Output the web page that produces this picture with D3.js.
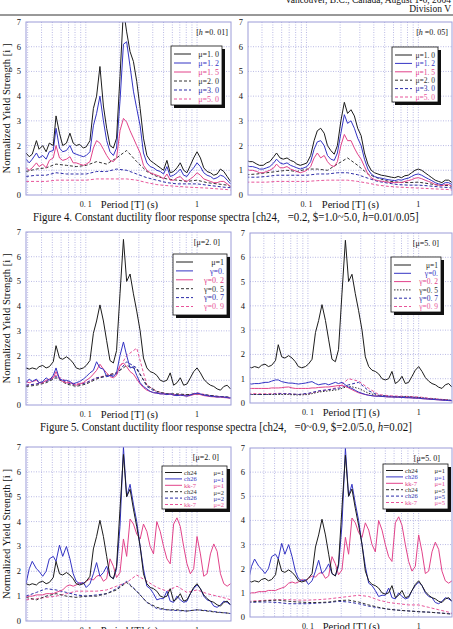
<!DOCTYPE html>
<html><head><meta charset="utf-8">
<script src="https://cdn.jsdelivr.net/npm/d3@7"></script>
<style>
body{margin:0;background:#fff}
svg{display:block}
text{font-family:"Liberation Serif","DejaVu Serif",serif;fill:#111}
</style></head><body>
<svg id="page" width="453" height="629"></svg>
<script>
// period grids (s)
const periods = [0.029,0.031,0.033,0.036,0.038,0.041,0.044,0.047,0.051,0.054,
  0.058,0.062,0.067,0.072,0.077,0.082,0.088,0.095,0.101,0.109,
  0.117,0.125,0.134,0.144,0.154,0.165,0.177,0.189,0.203,0.218,
  0.233,0.25,0.268,0.287,0.308,0.33,0.354,0.379,0.406,0.435,
  0.467,0.5,0.536,0.574,0.616,0.66,0.707,0.758,0.812,0.871,
  0.933,1.0,1.072,1.149,1.231,1.32,1.414,1.516,1.624,1.741,1.866,2.0]
const periodsC = [0.029,0.036,0.044,0.054,0.067,0.082,0.101,0.125,0.154,0.189,0.233,
  0.287,0.354,0.435,0.536,0.66,0.812,1.0,1.231,1.516,1.866,2.0]

// Fig 4, h=0.01
const h001_mu10 = [1.7,1.55,1.65,2.2,1.85,2.0,1.75,2.1,2.0,3.2, 2.5,2.0,2.1,2.5,2.1,2.0,2.05,1.9,1.95,2.2,
  3.5,4.0,5.2,3.6,2.7,2.0,1.9,2.3,4.8,7.5, 6.6,5.8,5.4,4.6,3.5,2.3,1.6,1.4,1.3,1.2,
  1.1,1.0,1.4,0.9,0.95,1.1,1.3,1.0,0.9,1.2, 1.5,1.75,1.5,1.1,0.95,0.9,0.8,0.85,1.05,0.95,0.75,0.55]
const h001_mu12 = [1.45,1.3,1.45,1.7,1.5,1.6,1.45,1.75,1.8,2.7, 1.9,1.75,1.8,2.0,1.7,1.65,1.6,1.55,1.6,1.75,
  2.8,3.3,4.0,3.0,2.2,1.75,1.6,1.9,3.8,6.1, 6.2,5.2,4.2,3.5,2.8,1.7,1.3,1.15,1.1,1.0,
  0.95,0.85,1.15,0.75,0.8,0.9,1.05,0.8,0.75,0.95, 1.1,1.3,1.15,0.9,0.8,0.75,0.65,0.7,0.8,0.75,0.6,0.45]
const h001_mu15 = [1.1,1.0,1.1,1.3,1.15,1.25,1.1,1.4,1.5,2.0, 1.5,1.4,1.45,1.55,1.3,1.3,1.25,1.2,1.25,1.35,
  1.9,2.2,2.1,1.85,1.6,1.4,1.35,1.5,2.6,3.1, 2.95,2.6,2.3,2.0,1.7,1.2,1.0,0.9,0.85,0.8,
  0.75,0.65,0.85,0.6,0.6,0.7,0.75,0.6,0.55,0.65, 0.75,0.9,0.8,0.65,0.6,0.55,0.5,0.5,0.55,0.55,0.45,0.35]
const h001_mu20 = [0.95,1.05,1.1,1.25,1.2,1.15,1.2,1.35,1.25,1.5,1.8,1.35,0.95,0.75,0.65,0.6,0.55,0.6,0.5,0.45,0.4,0.35]
const h001_mu30 = [0.75,0.8,0.8,0.9,0.85,0.85,0.85,0.95,0.95,1.05,1.0,0.85,0.7,0.6,0.5,0.45,0.45,0.45,0.4,0.35,0.3,0.3]
const h001_mu50 = [0.55,0.55,0.55,0.6,0.6,0.6,0.6,0.65,0.65,0.65,0.65,0.6,0.5,0.42,0.38,0.35,0.32,0.3,0.28,0.25,0.22,0.2]

// Fig 4, h=0.05
const h005_mu10 = [1.4,1.35,1.35,1.25,1.2,1.2,1.3,1.35,1.55,1.7, 1.5,1.45,1.5,1.4,1.35,1.25,1.2,1.25,1.3,1.6,
  2.2,2.6,2.7,2.5,2.0,1.8,1.65,2.0,3.0,3.75, 3.3,3.45,3.2,2.7,2.4,1.7,1.25,1.0,0.9,0.85,
  0.8,0.78,0.75,0.72,0.7,0.75,0.7,0.78,0.8,0.9, 1.0,1.05,1.0,0.9,0.8,0.7,0.6,0.55,0.5,0.6,0.6,0.5]
const h005_mu12 = [1.2,1.15,1.15,1.1,1.05,1.05,1.1,1.15,1.3,1.45, 1.3,1.25,1.3,1.2,1.15,1.1,1.05,1.1,1.15,1.35,
  1.85,2.15,2.2,2.0,1.6,1.45,1.4,1.7,2.5,3.25, 2.9,3.0,2.7,2.3,2.0,1.45,1.05,0.85,0.75,0.7,
  0.68,0.65,0.62,0.6,0.58,0.62,0.6,0.65,0.68,0.75, 0.82,0.85,0.8,0.72,0.65,0.58,0.5,0.45,0.42,0.5,0.5,0.42]
const h005_mu15 = [1.05,1.0,1.0,0.95,0.9,0.9,0.95,1.0,1.1,1.25, 1.1,1.1,1.15,1.05,1.0,0.95,0.9,0.95,1.0,1.15,
  1.5,1.7,1.5,1.6,1.35,1.2,1.15,1.35,2.0,2.45, 2.2,2.2,1.9,1.65,1.45,1.15,0.85,0.7,0.62,0.58,
  0.56,0.54,0.52,0.5,0.5,0.52,0.5,0.55,0.58,0.62, 0.68,0.7,0.66,0.6,0.55,0.5,0.42,0.4,0.38,0.42,0.42,0.35]
const h005_mu20 = [0.82,0.85,0.9,0.95,1.0,0.95,1.05,1.05,1.0,1.25,1.5,1.2,0.85,0.68,0.56,0.52,0.5,0.52,0.46,0.4,0.38,0.35]
const h005_mu30 = [0.72,0.72,0.75,0.8,0.8,0.8,0.8,0.85,0.85,0.9,0.9,0.82,0.68,0.55,0.48,0.42,0.4,0.4,0.37,0.33,0.3,0.28]
const h005_mu50 = [0.52,0.52,0.52,0.55,0.55,0.55,0.55,0.58,0.6,0.6,0.6,0.55,0.48,0.4,0.35,0.32,0.3,0.28,0.26,0.24,0.22,0.2]

// mu=1 spectra, h=0.02
const ch24_mu1 = [1.5,1.45,1.5,1.45,1.55,1.6,1.5,1.55,1.75,2.4, 1.9,1.85,1.95,1.85,1.7,1.5,1.45,1.5,1.6,1.8,
  2.9,3.4,4.05,3.4,2.6,1.8,1.7,2.2,4.5,6.7, 5.0,5.3,4.5,3.8,3.0,1.9,1.5,1.35,1.3,1.2,
  1.0,0.95,1.0,1.3,0.8,0.9,1.1,0.8,0.85,1.1, 1.35,1.5,1.3,1.05,0.9,0.8,0.75,0.65,0.6,0.75,0.8,0.65]
const ch26_mu1 = [1.5,2.1,2.4,2.1,2.0,1.8,2.0,2.5,2.6,2.4, 3.05,2.6,3.0,2.5,1.9,1.6,1.5,1.55,1.35,1.5,
  1.9,2.35,1.8,1.95,2.2,1.8,1.7,2.1,3.8,7.0, 5.0,5.5,4.7,4.0,3.0,2.1,1.4,1.3,1.1,0.85,
  0.9,0.9,1.2,0.8,0.75,1.0,0.85,0.75,0.8,1.1, 1.3,1.45,1.3,1.0,0.85,0.8,0.6,0.55,0.65,0.8,0.75,0.65]
const kk7_mu1 = [0.95,1.0,1.0,1.05,1.05,1.05,1.1,1.1,1.1,1.15, 1.2,1.25,1.4,1.45,1.4,1.45,1.55,1.5,1.6,1.7,
  1.65,1.8,1.85,1.6,1.7,2.5,2.2,1.75,1.95,3.3, 2.6,4.1,3.9,3.5,3.3,3.9,3.6,3.0,2.7,4.0,
  3.6,3.0,2.5,2.3,3.9,4.15,3.8,3.0,2.3,1.9, 2.1,3.4,2.7,1.8,1.9,2.7,3.1,2.8,1.9,1.5,1.4,1.5]

// Fig 5, mu=2.0
const g0_mu2 = [0.9,1.05,0.95,1.05,0.9,0.95,1.1,1.0,1.2,1.5, 1.05,1.0,1.0,0.95,0.85,0.9,0.95,1.05,1.15,1.3,
  1.4,1.75,1.5,1.45,1.15,1.2,1.15,1.3,2.0,2.55, 2.0,1.5,1.55,1.2,0.9,0.75,0.65,0.55,0.5,0.48,
  0.45,0.45,0.42,0.45,0.4,0.38,0.4,0.38,0.36,0.4, 0.45,0.48,0.45,0.4,0.38,0.35,0.35,0.32,0.33,0.32,0.3,0.28]
const g02_mu2 = [0.95,0.9,0.95,1.0,0.9,0.9,1.0,1.05,1.1,1.35, 1.05,0.95,0.9,0.9,0.85,0.8,0.85,0.9,1.0,1.1,
  1.25,1.4,1.65,1.45,1.3,1.15,1.1,1.2,1.6,1.7, 1.55,1.35,1.25,1.05,0.85,0.7,0.6,0.55,0.5,0.48,
  0.45,0.45,0.42,0.45,0.4,0.38,0.4,0.38,0.36,0.38, 0.42,0.45,0.42,0.38,0.36,0.34,0.33,0.32,0.32,0.3,0.29,0.27]
const g05_mu2 = [0.75,0.8,0.9,1.1,0.85,0.75,0.85,1.05,1.2,1.3,1.6,1.45,0.8,0.55,0.45,0.45,0.42,0.45,0.4,0.35,0.32,0.3]
const g07_mu2 = [0.8,0.85,0.95,1.15,0.9,0.8,0.9,1.1,1.15,1.25,1.75,1.5,0.75,0.5,0.45,0.42,0.4,0.45,0.4,0.35,0.32,0.3]
const g09_mu2 = [0.8,0.85,0.95,1.2,0.95,0.85,0.9,1.1,1.2,1.3,2.0,2.3,0.8,0.55,0.45,0.42,0.4,0.5,0.4,0.35,0.32,0.3]

// Fig 5, mu=5.0
const g0_mu5 = [0.8,0.78,0.8,0.8,0.82,0.85,0.85,0.9,0.95,0.95, 0.88,0.85,0.82,0.82,0.8,0.78,0.8,0.82,0.85,0.88,
  0.8,0.75,0.78,0.8,0.75,0.8,0.85,0.8,0.85,0.75, 0.65,0.6,0.52,0.45,0.4,0.35,0.32,0.3,0.28,0.28,
  0.27,0.26,0.25,0.25,0.24,0.24,0.23,0.22,0.22,0.21, 0.2,0.2,0.18,0.17,0.16,0.15,0.14,0.13,0.12,0.11,0.1,0.1]
const g02_mu5 = [0.6,0.6,0.6,0.6,0.6,0.6,0.6,0.62,0.62,0.62, 0.63,0.65,0.66,0.62,0.6,0.6,0.6,0.6,0.6,0.62,
  0.62,0.64,0.65,0.66,0.66,0.68,0.7,0.72,0.72,0.68, 0.62,0.55,0.48,0.42,0.38,0.35,0.32,0.3,0.29,0.28,
  0.27,0.26,0.25,0.25,0.24,0.24,0.23,0.22,0.22,0.21, 0.2,0.19,0.18,0.17,0.16,0.15,0.14,0.13,0.12,0.11,0.1,0.09]
const g05_mu5 = [0.35,0.35,0.35,0.35,0.35,0.33,0.35,0.45,0.5,0.55,0.7,0.6,0.4,0.3,0.27,0.25,0.25,0.22,0.18,0.15,0.12,0.1]
const g07_mu5 = [0.35,0.35,0.35,0.38,0.38,0.35,0.4,0.5,0.55,0.6,0.75,0.85,0.5,0.32,0.28,0.26,0.25,0.22,0.18,0.15,0.12,0.1]
const g09_mu5 = [0.4,0.38,0.38,0.4,0.38,0.35,0.38,0.48,0.55,0.65,1.0,0.9,0.6,0.35,0.3,0.28,0.27,0.25,0.2,0.16,0.13,0.1]

// records compared, mu=2 and mu=5
const ch24_mu2 = [0.95,0.85,1.0,1.1,1.0,0.95,1.0,1.0,1.1,1.25,1.55,1.2,0.75,0.55,0.45,0.45,0.4,0.45,0.4,0.35,0.32,0.3]
const ch26_mu2 = [1.0,1.15,1.3,1.25,1.15,1.05,1.0,1.05,1.1,1.3,1.6,1.2,0.75,0.5,0.45,0.42,0.4,0.45,0.42,0.36,0.32,0.3]
const kk7_mu2 = [0.85,0.9,0.95,1.0,1.1,1.2,1.2,1.2,1.25,1.4,1.55,1.85,1.6,1.35,1.2,1.4,1.15,1.25,1.1,1.0,0.9,0.85]
const ch24_mu5 = [0.62,0.65,0.68,0.7,0.65,0.62,0.6,0.6,0.62,0.68,0.7,0.62,0.5,0.4,0.32,0.28,0.25,0.22,0.2,0.17,0.13,0.12]
const ch26_mu5 = [0.6,0.62,0.62,0.6,0.55,0.55,0.55,0.58,0.6,0.65,0.62,0.55,0.45,0.38,0.32,0.28,0.25,0.22,0.2,0.17,0.14,0.12]
const kk7_mu5 = [0.65,0.68,0.7,0.72,0.72,0.7,0.7,0.72,0.75,0.8,0.85,0.9,0.85,0.7,0.6,0.55,0.5,0.5,0.4,0.3,0.2,0.15]

const yTicks = [0,1,2,3,4,5,6,7]
const gridT = [0.03,0.04,0.05,0.06,0.07,0.08,0.09,0.1,0.2,0.3,0.4,0.5,0.6,0.7,0.8,0.9,1,2]

const BLK = "#1c1c1c", BLU = "#3434c4", PNK = "#e2438a"
const DBLK = "#333", DBLU = "#2c2ca8", DPNK = "#e8559a"
const DASH = "3,2"

function s(v, T, color, dash, label, name) { return {v, T, color, dash, label, name} }

const panels = [
  {x0:26, x1:231, y0:22, y1:195, dom:[0.029,2.02], tag:["[","h"," =0. 01]"], tagX:228, yLab:true,
   leg:{x:171, y:46, w:51, h:59, fs:8, top:8, step:9},
   series:[s(h001_mu10,periods,BLK,null,"μ=1. 0"), s(h001_mu12,periods,BLU,null,"μ=1. 2"), s(h001_mu15,periods,PNK,null,"μ=1. 5"),
           s(h001_mu20,periodsC,DBLK,DASH,"μ=2. 0"), s(h001_mu30,periodsC,DBLU,DASH,"μ=3. 0"), s(h001_mu50,periodsC,DPNK,DASH,"μ=5. 0")]},
  {x0:248, x1:452, y0:22, y1:195, dom:[0.03,2.0], tag:["[","h"," =0. 05]"], tagX:448,
   leg:{x:392, y:47, w:46, h:55, fs:7.5, top:8, step:8.4},
   series:[s(h005_mu10,periods,BLK,null,"μ=1. 0"), s(h005_mu12,periods,BLU,null,"μ=1. 2"), s(h005_mu15,periods,PNK,null,"μ=1. 5"),
           s(h005_mu20,periodsC,DBLK,DASH,"μ=2. 0"), s(h005_mu30,periodsC,DBLU,DASH,"μ=3. 0"), s(h005_mu50,periodsC,DPNK,DASH,"μ=5. 0")]},
  {x0:26, x1:231, y0:232, y1:405, dom:[0.029,2.02], tag:["[μ=2. 0]"], tagX:220, yLab:true,
   leg:{x:173, y:254, w:54, h:61, fs:8, top:8, step:8.9},
   series:[s(ch24_mu1,periods,BLK,null,"μ=1"), s(g0_mu2,periods,BLU,null,"γ=0."), s(g02_mu2,periods,PNK,null,"γ=0. 2"),
           s(g05_mu2,periodsC,DBLK,DASH,"γ=0. 5"), s(g07_mu2,periodsC,DBLU,DASH,"γ=0. 7"), s(g09_mu2,periodsC,DPNK,DASH,"γ=0. 9")]},
  {x0:250, x1:452, y0:233, y1:403, dom:[0.03,2.0], tag:["[μ=5. 0]"], tagX:439,
   leg:{x:391, y:257, w:50, h:55, fs:7.5, top:8, step:8.3},
   series:[s(ch24_mu1,periods,BLK,null,"μ=1"), s(g0_mu5,periods,BLU,null,"γ=0."), s(g02_mu5,periods,PNK,null,"γ=0. 2"),
           s(g05_mu5,periodsC,DBLK,"1.5,1.5","γ=0. 5"), s(g07_mu5,periodsC,DBLU,DASH,"γ=0. 7"), s(g09_mu5,periodsC,DPNK,DASH,"γ=0. 9")]},
  {x0:26, x1:231, y0:447, y1:621, dom:[0.029,2.02], tag:["[μ=2. 0]"], tagX:219, yLab:true,
   leg:{x:162, y:466, w:65, h:43, fs:6.5, top:6.5, step:6.4},
   series:[s(ch24_mu1,periods,BLK,null,"μ=1","ch24"), s(ch26_mu1,periods,BLU,null,"μ=1","ch26"), s(kk7_mu1,periods,PNK,null,"μ=1","kk-7"),
           s(ch24_mu2,periodsC,DBLK,DASH,"μ=2","ch24"), s(ch26_mu2,periodsC,DBLU,DASH,"μ=2","ch26"), s(kk7_mu2,periodsC,DPNK,DASH,"μ=2","kk-7")]},
  {x0:250, x1:452, y0:448, y1:617, dom:[0.03,2.0], tag:["[μ=5. 0]"], tagX:440,
   leg:{x:383, y:464, w:65, h:45, fs:6.5, top:6.5, step:6.4},
   series:[s(ch24_mu1,periods,BLK,null,"μ=1","ch24"), s(ch26_mu1,periods,BLU,null,"μ=1","ch26"), s(kk7_mu1,periods,PNK,null,"μ=1","kk-7"),
           s(ch24_mu5,periodsC,DBLK,DASH,"μ=5","ch24"), s(ch26_mu5,periodsC,DBLU,DASH,"μ=5","ch26"), s(kk7_mu5,periodsC,DPNK,DASH,"μ=5","kk-7")]}
]

const svg = d3.select("#page")

// page header
svg.append("text").attr("x", 451).attr("y", 2.5).attr("text-anchor", "end").attr("font-size", 9.5)
  .text("Vancouver, B.C., Canada, August 1-6, 2004")
svg.append("text").attr("x", 451).attr("y", 12).attr("text-anchor", "end").attr("font-size", 9.5).text("Division V")
svg.append("line").attr("x1", 0).attr("x2", 453).attr("y1", 15).attr("y2", 15).attr("stroke", "#333").attr("stroke-width", 1)

panels.forEach((p, i) => {
  const x = d3.scaleLog().domain(p.dom).range([p.x0, p.x1])
  const y = d3.scaleLinear().domain([0, 7]).range([p.y1, p.y0])
  const g = svg.append("g")

  g.append("clipPath").attr("id", "clip" + i).append("rect")
    .attr("x", p.x0).attr("y", p.y0).attr("width", p.x1 - p.x0).attr("height", p.y1 - p.y0)

  // grid
  g.selectAll(".hg").data(yTicks.slice(1, 7)).enter().append("line")
    .attr("x1", p.x0).attr("x2", p.x1).attr("y1", d => y(d)).attr("y2", d => y(d))
    .attr("stroke", "#a8a8de").attr("stroke-width", 0.8).attr("stroke-dasharray", "1,1.5")
  g.selectAll(".vg").data(gridT.filter(t => x(t) > p.x0 + 1 && x(t) < p.x1 - 1)).enter().append("line")
    .attr("x1", d => x(d)).attr("x2", d => x(d)).attr("y1", p.y0).attr("y2", p.y1)
    .attr("stroke", "#a8a8de").attr("stroke-width", 0.8).attr("stroke-dasharray", "1,1.5")

  // curves
  const line = d3.line().x(d => x(d[0])).y(d => y(d[1]))
  const cg = g.append("g").attr("clip-path", `url(#clip${i})`)
  p.series.slice().reverse().forEach(se => {
    cg.append("path").datum(se.T.map((t, k) => [t, se.v[k]]))
      .attr("d", line).attr("fill", "none").attr("stroke", se.color).attr("stroke-width", 1)
      .attr("stroke-dasharray", se.dash)
  })

  // frame
  g.append("rect").attr("x", p.x0).attr("y", p.y0).attr("width", p.x1 - p.x0).attr("height", p.y1 - p.y0)
    .attr("fill", "none").attr("stroke", "#9c9cd8").attr("stroke-width", 1)

  // y ticks
  g.selectAll(".yt").data(yTicks).enter().append("text")
    .attr("x", p.x0 - 5).attr("y", d => y(d) + 3).attr("text-anchor", "end").attr("font-size", 8.5).text(d => d)

  // x ticks and title
  const ly = p.y1 + 12
  g.append("text").attr("x", x(0.1)).attr("y", ly).attr("text-anchor", "middle").attr("font-size", 8).text("0. 1")
  g.append("text").attr("x", x(1)).attr("y", ly).attr("text-anchor", "middle").attr("font-size", 8).text("1")
  g.append("text").attr("x", (x(0.1) + x(1)) / 2 - 12).attr("y", ly + 1).attr("text-anchor", "middle")
    .attr("font-size", 10.5).text("Period [T] (s)")

  if (p.yLab) {
    g.append("text").attr("transform", `translate(10,${(p.y0 + p.y1) / 2}) rotate(-90)`)
      .attr("text-anchor", "middle").attr("font-size", 11).attr("textLength", 130).attr("lengthAdjust", "spacingAndGlyphs")
      .text("Normalized Yield Strength [i ]")
  }

  // bracket tag
  const tg = g.append("text").attr("x", p.tagX).attr("y", p.y0 + 13).attr("text-anchor", "end").attr("font-size", 8)
  p.tag.forEach(part => tg.append("tspan").attr("font-style", part === "h" ? "italic" : null).text(part))

  // legend
  const L = p.leg
  g.append("rect").attr("x", L.x + 3).attr("y", L.y + 3).attr("width", L.w).attr("height", L.h).attr("fill", "#111")
  g.append("rect").attr("x", L.x).attr("y", L.y).attr("width", L.w).attr("height", L.h)
    .attr("fill", "#fff").attr("stroke", "#111").attr("stroke-width", 0.8)
  p.series.forEach((se, k) => {
    const yy = L.y + L.top + k * L.step
    g.append("line").attr("x1", L.x + 3).attr("x2", L.x + 20).attr("y1", yy).attr("y2", yy)
      .attr("stroke", se.color).attr("stroke-width", 1).attr("stroke-dasharray", se.dash)
    if (se.name) {
      g.append("text").attr("x", L.x + 22).attr("y", yy + 2.3).attr("font-size", L.fs).style("fill", se.color)
        .attr("font-family", "Liberation Sans, Arial, sans-serif").text(se.name)
    }
    g.append("text").attr("x", L.x + L.w - 3).attr("y", yy + 2.8).attr("text-anchor", "end")
      .attr("font-size", L.fs).style("fill", se.color).text(se.label)
  })
})

// captions, squeezed horizontally to the printed width
function caption(x0, yb, width, parts) {
  const t = svg.append("text").attr("x", 0).attr("y", 0).attr("font-size", 11.5)
  parts.forEach(([str, it]) => t.append("tspan").attr("font-style", it ? "italic" : null).text(str))
  const w = t.node().getComputedTextLength()
  t.attr("transform", `translate(${x0},${yb}) scale(${width / w},1)`)
}
caption(33, 221, 386, [["Figure 4. Constant ductility floor response spectra [ch24, \u00a0\u00a0=0.2, $=1.0~5.0, "], ["h", true], ["=0.01/0.05]"]])
caption(40, 431, 372, [["Figure 5. Constant ductility floor response spectra [ch24, \u00a0\u00a0=0~0.9, $=2.0/5.0, "], ["h", true], ["=0.02]"]])
</script>
</body></html>
